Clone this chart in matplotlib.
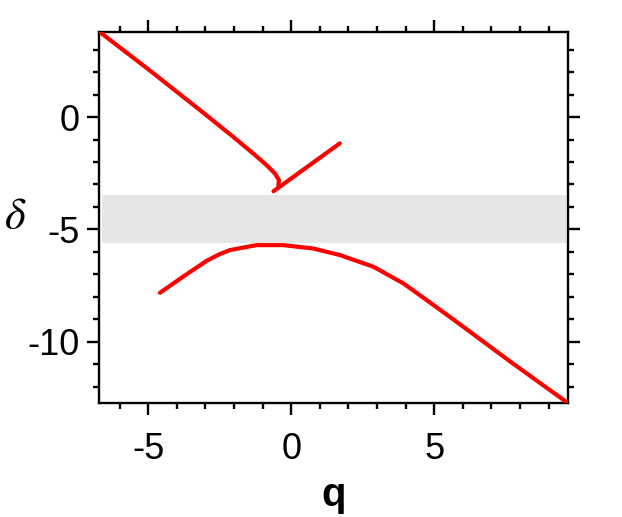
import matplotlib
matplotlib.use("Agg")
import matplotlib.pyplot as plt
from matplotlib.ticker import MultipleLocator

plt.rcParams['font.family'] = ['Liberation Sans', 'DejaVu Sans']
plt.rcParams['mathtext.fontset'] = 'stix'
plt.rcParams['axes.unicode_minus'] = False

# upper branch (descending, bends into a small hook)
q_up = [-6.71, -4.9, -3.19, -2.03, -1.33, -0.86, -0.57, -0.43, -0.45]
d_up = [3.80, 2.03, 0.31, -0.88, -1.62, -2.14, -2.51, -2.80, -3.10]

# short rising branch
q_br = [-0.62, 1.70]
d_br = [-3.30, -1.17]

# lower branch
q_lo = [-4.59, -3.8, -2.96, -2.5, -2.14, -1.21, -0.28, 0.77, 1.70,
        2.87, 3.92, 4.85, 5.78, 7.7, 9.69]
d_lo = [-7.82, -7.12, -6.40, -6.10, -5.92, -5.70, -5.70, -5.85, -6.14,
        -6.66, -7.40, -8.25, -9.11, -10.92, -12.74]

# gray band
band_lo, band_hi = -5.59, -3.47
band_q = [-6.62, 9.60]

fig = plt.figure(figsize=(6.22, 5.17), dpi=100)
ax = fig.add_axes([0.1597, 0.2199, 0.9137 - 0.1597, 0.9387 - 0.2199])

ax.fill_between(band_q, band_lo, band_hi, color='#e5e5e5', lw=0, zorder=1)
for qq, dd in [(q_up, d_up), (q_br, d_br), (q_lo, d_lo)]:
    ax.plot(qq, dd, color='red', lw=3, solid_capstyle='round',
            solid_joinstyle='round', zorder=3)

ax.set_xlim(-6.71, 9.69)
ax.set_ylim(-12.74, 3.80)

ax.xaxis.set_major_locator(MultipleLocator(5))
ax.xaxis.set_minor_locator(MultipleLocator(1))
ax.yaxis.set_major_locator(MultipleLocator(5))
ax.yaxis.set_minor_locator(MultipleLocator(1))

ax.tick_params(which='both', direction='out', top=True, right=True, width=1.7)
ax.tick_params(which='major', length=8.5, labelsize=26)
ax.tick_params(which='minor', length=4.3)
ax.tick_params(axis='x', which='major', pad=12)
ax.tick_params(axis='y', which='major', pad=6)
for s in ax.spines.values():
    s.set_linewidth(1.7)

ax.set_xlabel('q', fontsize=29, fontweight='bold', va='baseline')
ax.xaxis.set_label_coords(0.5, -0.276)
ax.set_ylabel(r'$\delta$', fontsize=32, rotation=0, va='center', ha='center')
ax.yaxis.set_label_coords(-0.18, 0.5)

fig.savefig('out.png', dpi=100)
